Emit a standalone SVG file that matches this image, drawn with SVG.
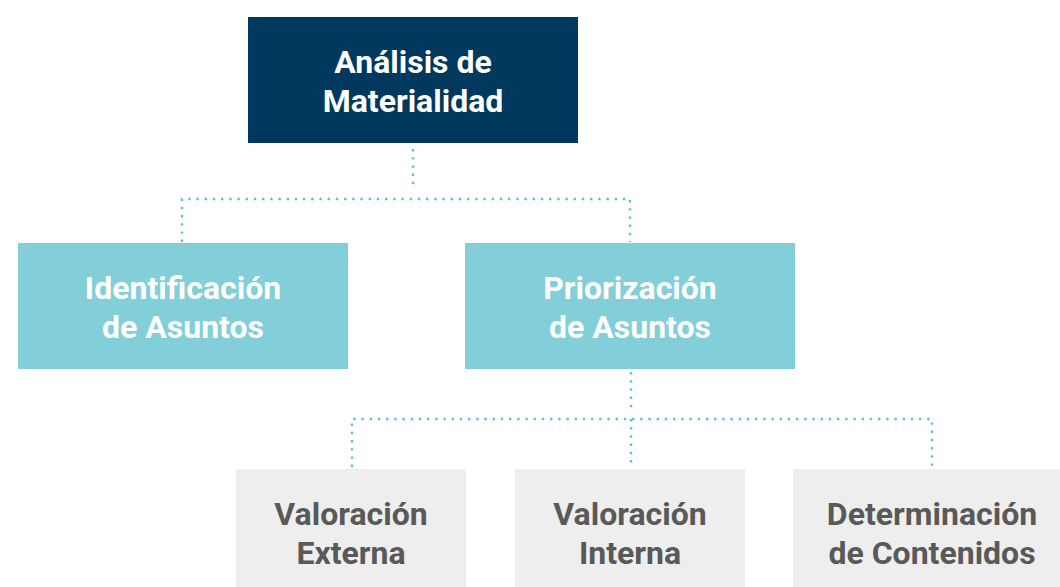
<svg xmlns="http://www.w3.org/2000/svg" width="1060" height="587" viewBox="0 0 1060 587">
<style>
text{font-family:Roboto,"Liberation Sans",sans-serif;font-weight:bold;font-size:32px;text-anchor:middle}
.top rect{fill:#00395d}
.mid rect{fill:#82cfd9}
.low rect{fill:#eeeeee}
.top text,.mid text{fill:#ffffff}
.low text{fill:#595959}
.conn{fill:none;stroke:#5bc3d3;stroke-width:2.4;stroke-dasharray:2.4 5.8;stroke-linecap:butt}
</style>
<rect width="1060" height="587" fill="#ffffff"/>
<g id="connectors" class="conn">
<path d="M413 149V189"/>
<path d="M182 242V199H630V242"/>
<path d="M631 372V412"/>
<path d="M352 467V419H932V467"/>
<path d="M631 419V467"/>
</g>
<g id="n-analisis" class="top"><rect x="248" y="17" width="330" height="126"/><text x="413" y="73">Análisis de</text><text x="413" y="112">Materialidad</text></g>
<g id="n-identificacion" class="mid"><rect x="18" y="243" width="330" height="126"/><text x="183" y="299">Identificación</text><text x="183" y="338">de Asuntos</text></g>
<g id="n-priorizacion" class="mid"><rect x="465" y="243" width="330" height="126"/><text x="630" y="299">Priorización</text><text x="630" y="338">de Asuntos</text></g>
<g id="n-externa" class="low"><rect x="236" y="469" width="230" height="125"/><text x="351" y="525">Valoración</text><text x="351" y="564">Externa</text></g>
<g id="n-interna" class="low"><rect x="515" y="469" width="230" height="125"/><text x="630" y="525">Valoración</text><text x="630" y="564">Interna</text></g>
<g id="n-contenidos" class="low"><rect x="793" y="469" width="280" height="125"/><text x="932" y="525">Determinación</text><text x="932" y="564">de Contenidos</text></g>
</svg>
